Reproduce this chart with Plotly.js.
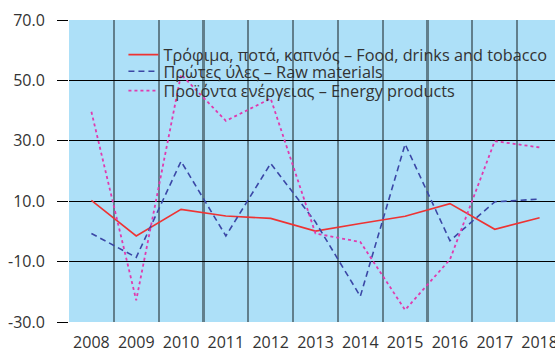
<!DOCTYPE html>
<html><head><meta charset="utf-8">
<script src="https://cdn.plot.ly/plotly-3.0.1.min.js"></script>
<style>html,body{margin:0;padding:0;background:#fff}#chart{width:555px;height:353px}</style>
</head><body><div id="chart"></div>
<script>
const years = ["2008","2009","2010","2011","2012","2013","2014","2015","2016","2017","2018"];
const foodName = "Τρόφιμα, ποτά, καπνός – Food, drinks and tobacco";
const rawName = "Πρώτες ύλες – Raw materials";
const energyName = "Προϊόντα ενέργειας – Energy products";
const food = [10.3, -1.5, 7.3, 5.1, 4.3, 0.1, 2.6, 5.0, 9.2, 0.7, 4.5];
const raw = [-0.7, -8.6, 23.2, -1.5, 22.5, 3.1, -21.5, 28.9, -3.1, 9.8, 10.7];
const energy = [39.6, -22.8, 52.0, 36.6, 44.0, -0.7, -3.5, -26.0, -9.3, 29.9, 27.8];
const yTicks = [-30, -10, 10, 30, 50, 70];
const yTickText = ["-30.0", "-10.0", "10.0", "30.0", "50.0", "70.0"];

const traces = [
  {x: years, y: food, name: foodName, type: "scatter", mode: "lines", legend: "legend",
   line: {color: "#ee3333", width: 1.6}},
  {x: years, y: raw, name: rawName, type: "scatter", mode: "lines", legend: "legend2",
   line: {color: "#3b47a6", width: 1.6, dash: "6px,4px"}},
  {x: years, y: energy, name: energyName, type: "scatter", mode: "lines", legend: "legend3",
   line: {color: "#e03aae", width: 1.8, dash: "3px,3px"}}
];
function leg(y) {
  return {x: 0.112, y: y, xanchor: "left", yanchor: "middle",
    bgcolor: "rgba(0,0,0,0)", font: {size: 16.3, color: "#333333"},
    itemwidth: 30};
}
const layout = {
  width: 555, height: 353,
  margin: {l: 69, r: 0, t: 20, b: 31},
  paper_bgcolor: "#ffffff",
  plot_bgcolor: "#ade0f8",
  font: {family: "Open Sans, sans-serif", color: "#333333"},
  showlegend: true,
  legend: leg(0.884),
  legend2: leg(0.829),
  legend3: leg(0.7649),
  xaxis: {type: "category", range: [-0.5, 10.344], tickson: "boundaries",
    showgrid: true, gridcolor: "#617f8c", gridwidth: 2.2,
    ticks: "", zeroline: false, showline: false, ticklabelstandoff: 9,
    tickfont: {size: 16, color: "#333333"}, fixedrange: true},
  yaxis: {range: [-30, 70], tickvals: yTicks, ticktext: yTickText,
    showgrid: true, gridcolor: "#000000", gridwidth: 1,
    ticks: "outside", ticklen: 11, tickcolor: "#000000", tickwidth: 1,
    zeroline: false, showline: false, ticklabelstandoff: 9,
    tickfont: {size: 16, color: "#333333"}, fixedrange: true}
};
Plotly.newPlot("chart", traces, layout, {displayModeBar: false, staticPlot: true});
</script></body></html>
